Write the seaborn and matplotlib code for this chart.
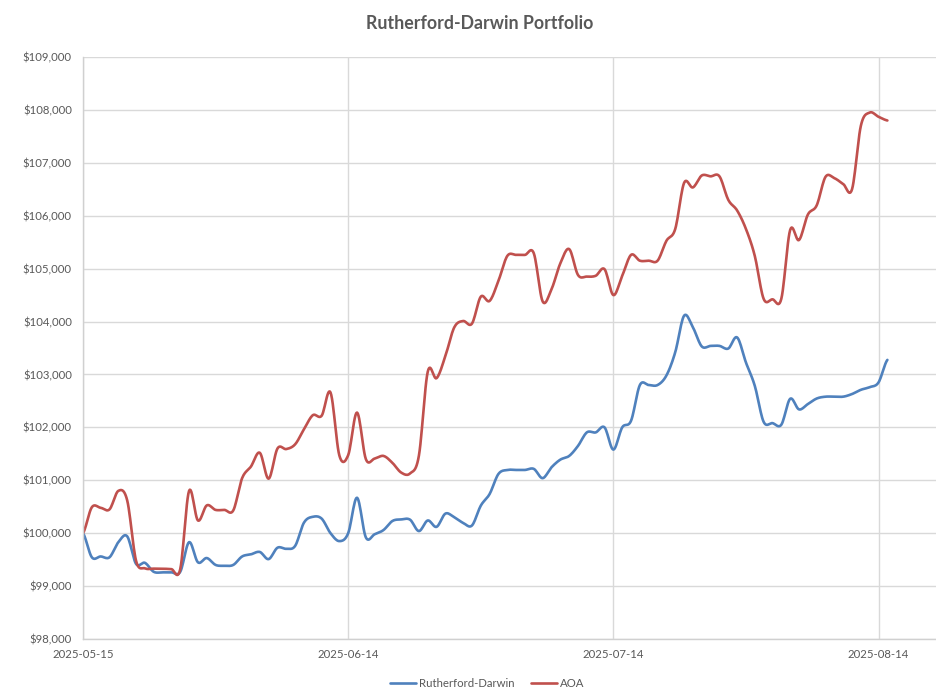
import numpy as np
import pandas as pd
import matplotlib
matplotlib.use("Agg")
import matplotlib.pyplot as plt
from matplotlib.ticker import FuncFormatter
import seaborn as sns

# daily portfolio values (2025-05-15 onwards)
rutherford_darwin = [
    100000, 99545, 99560, 99545, 99830, 99940, 99420, 99440, 99270, 99260,
    99260, 99270, 99830, 99450, 99530, 99400, 99385, 99400, 99560, 99600,
    99645, 99510, 99725, 99705, 99760, 100200, 100310, 100275, 100000, 99850,
    100000, 100670, 99920, 99980, 100060, 100230, 100260, 100255, 100040, 100240,
    100120, 100370, 100300, 100195, 100145, 100520, 100740, 101120, 101195, 101195,
    101195, 101215, 101040, 101245, 101390, 101460, 101650, 101905, 101905, 102000,
    101580, 102000, 102125, 102800, 102800, 102800, 102980, 103420, 104110, 103890,
    103530, 103540, 103540, 103490, 103700, 103225, 102785, 102105, 102080, 102050,
    102540, 102340, 102440, 102545, 102580, 102580, 102580, 102630, 102710, 102760,
    102850, 103275,
]
aoa = [
    100000, 100490, 100480, 100450, 100800, 100620, 99480, 99335, 99330, 99330,
    99320, 99320, 100800, 100240, 100525, 100440, 100440, 100430, 101040, 101260,
    101520, 101030, 101600, 101590, 101680, 101965, 102230, 102220, 102660, 101470,
    101475, 102280, 101400, 101410, 101460, 101330, 101145, 101130, 101465, 103050,
    102930, 103350, 103890, 104010, 103960, 104470, 104390, 104770, 105240, 105260,
    105260, 105290, 104380, 104610, 105100, 105370, 104880, 104850, 104865, 104990,
    104500, 104865, 105260, 105150, 105150, 105150, 105525, 105750, 106620, 106535,
    106760, 106745, 106745, 106300, 106100, 105750, 105240, 104430, 104420, 104430,
    105730, 105540, 106020, 106195, 106735, 106710, 106600, 106500, 107700, 107950,
    107870, 107800,
]
series_names = ["Rutherford-Darwin", "AOA"]
colors = ["#4F81BD", "#C0504D"]
tick_days = [0, 30, 60, 90]
tick_labels = ["2025-05-15", "2025-06-14", "2025-07-14", "2025-08-14"]


def smooth(y, steps=12):
    # Catmull-Rom style curve through every point, like Excel's smoothed line
    y = np.asarray(y, dtype=float)
    p = np.concatenate([[y[0]], y, [y[-1]]])
    m = (p[2:] - p[:-2]) / 2
    xs, ys = [], []
    for i in range(len(y) - 1):
        t = np.linspace(0, 1, steps, endpoint=False)
        h00 = 2 * t**3 - 3 * t**2 + 1
        h10 = t**3 - 2 * t**2 + t
        h01 = -2 * t**3 + 3 * t**2
        h11 = t**3 - t**2
        xs.extend(i + t)
        ys.extend(h00 * y[i] + h10 * m[i] + h01 * y[i + 1] + h11 * m[i + 1])
    xs.append(len(y) - 1)
    ys.append(y[-1])
    return xs, ys


frames = []
for name, vals in zip(series_names, [rutherford_darwin, aoa]):
    xs, ys = smooth(vals)
    frames.append(pd.DataFrame({"day": xs, "value": ys, "series": name}))
df = pd.concat(frames, ignore_index=True)

sns.set_theme(style="white")
plt.rcParams["font.family"] = ["Lato", "DejaVu Sans"]

fig = plt.figure(figsize=(9.37, 6.98), dpi=100)
ax = fig.add_axes([83 / 937, 59 / 698, 853 / 937, 582 / 698])

sns.lineplot(data=df, x="day", y="value", hue="series", palette=colors,
             hue_order=series_names, linewidth=1.9, ax=ax, legend=False)

ax.set_xlim(0, 96.5)
ax.set_ylim(98000, 109000)
ax.set_yticks(np.arange(98000, 109001, 1000))
ax.yaxis.set_major_formatter(FuncFormatter(lambda v, _: f"${v:,.0f}"))
ax.set_xticks(tick_days)
ax.set_xticklabels(tick_labels)
ax.grid(True, color="#D9D9D9", linewidth=1)
ax.set_axisbelow(True)
ax.set_xlabel("")
ax.set_ylabel("")
ax.tick_params(axis="both", length=0, colors="#595959", labelsize=8.2)
ax.tick_params(axis="y", pad=8)
ax.tick_params(axis="x", pad=7)
for side in ["top", "right"]:
    ax.spines[side].set_visible(False)
for side in ["left", "bottom"]:
    ax.spines[side].set_color("#D0D0D0")
    ax.spines[side].set_linewidth(1)

fig.text(0.512, 0.967, "Rutherford-Darwin Portfolio", ha="center", va="center",
         fontsize=12.8, fontweight="bold", color="#595959")

handles = ax.get_lines()[:2]
ax.legend(handles, series_names, loc="center", bbox_to_anchor=(0.52, 0.021),
          bbox_transform=fig.transFigure, ncol=2, frameon=False,
          fontsize=8.2, labelcolor="#595959", handlelength=2.3,
          handletextpad=0.3, columnspacing=1.4)

fig.savefig("out.png", dpi=100)
